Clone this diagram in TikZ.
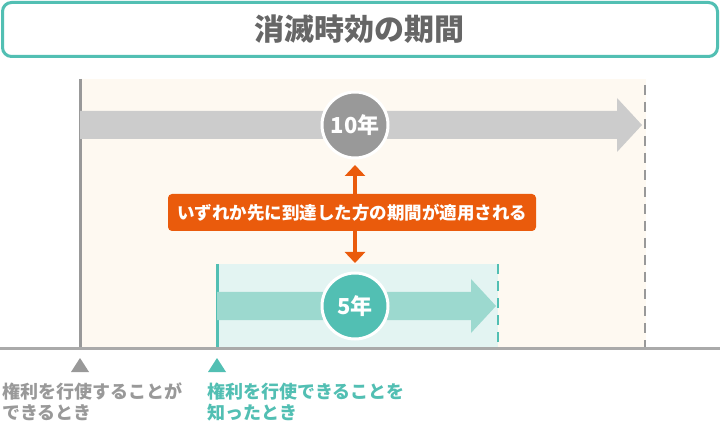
\documentclass[tikz,border=0pt]{standalone}
\usepackage{fontspec}
\setmainfont{Noto Sans CJK JP}
\usetikzlibrary{arrows.meta}
\definecolor{teal1}{HTML}{52BFB3}
\definecolor{teallt}{HTML}{E3F4F2}
\definecolor{tealarr}{HTML}{9CD9CF}
\definecolor{cream}{HTML}{FEF9F1}
\definecolor{gr6}{HTML}{666666}
\definecolor{gr9}{HTML}{999999}
\definecolor{grA}{HTML}{AAAAAA}
\definecolor{grC}{HTML}{CCCCCC}
\definecolor{orng}{HTML}{EA5B0C}
\tikzset{
  period/.style={circle, minimum size=66pt, inner sep=0pt, draw=white, line width=3pt, text=white, font=\fontsize{22}{24}\selectfont\bfseries},
  caption/.style={anchor=north west, inner sep=0pt, align=left, font=\fontsize{18}{20.5}\selectfont\bfseries},
}
\begin{document}
\begin{tikzpicture}[x=1pt,y=-1pt]
\useasboundingbox (0,0) rectangle (720,438);
\fill[white] (0,0) rectangle (720,438);
% title
\node[draw=teal1, line width=3pt, rounded corners=9pt, fill=white, minimum width=715pt, minimum height=54pt, inner sep=0pt] (title) at (360,29.5) {};
\node[text=gr6, font=\fontsize{30}{32}\selectfont\bfseries] (ttext) at (359,29) {消滅時効の期間};
% backgrounds
\fill[cream] (80,79) rectangle (646,348);
\fill[teallt] (217,264) rectangle (498,348);
% lines
\draw[gr9, line width=3pt] (80,79) -- (80,348);
\draw[gr9, line width=2.5pt, dash pattern=on 10pt off 7pt] (645,85) -- (645,348);
\draw[teal1, line width=3pt] (217,264) -- (217,348);
\draw[teal1, line width=2.5pt, dash pattern=on 10pt off 7pt] (498,264) -- (498,348);
% big arrows
\fill[grC] (80,111) -- (617,111) -- (617,98) -- (642,125) -- (617,152) -- (617,139) -- (80,139) -- cycle;
\fill[tealarr] (217,292) -- (471,292) -- (471,279) -- (496,306) -- (471,333) -- (471,320) -- (217,320) -- cycle;
% circles
\node[period, fill=gr9] (ten) at (355,125) {10年};
\node[period, fill=teal1] (five) at (355,306) {5年};
% orange label
\node[fill=orng, rounded corners=4pt, text=white, minimum width=368pt, minimum height=37pt, inner sep=0pt, font=\fontsize{17.5}{19}\selectfont\bfseries] (lab) at (352,212.5) {いずれか先に到達した方の期間が適用される};
\coordinate (up) at (355,165);
\coordinate (dn) at (355,263);
\draw[orng, line width=4pt, -{Triangle[width=20pt,length=11pt]}] (lab.north -| up) -- (up);
\draw[orng, line width=4pt, -{Triangle[width=20pt,length=11pt]}] (lab.south -| dn) -- (dn);
% baseline
\draw[grA, line width=3pt] (0,348) -- (720,348);
% triangles
\fill[gr9] (80,358) -- (89,372) -- (71,372) -- cycle;
\fill[teal1] (217,358) -- (226,372) -- (208,372) -- cycle;
% captions
\node[caption, text=gr9] (c1) at (2,383) {権利を行使することが\\できるとき};
\node[caption, text=teal1] (c2) at (207,383) {権利を行使できることを\\知ったとき};
\end{tikzpicture}
\end{document}
